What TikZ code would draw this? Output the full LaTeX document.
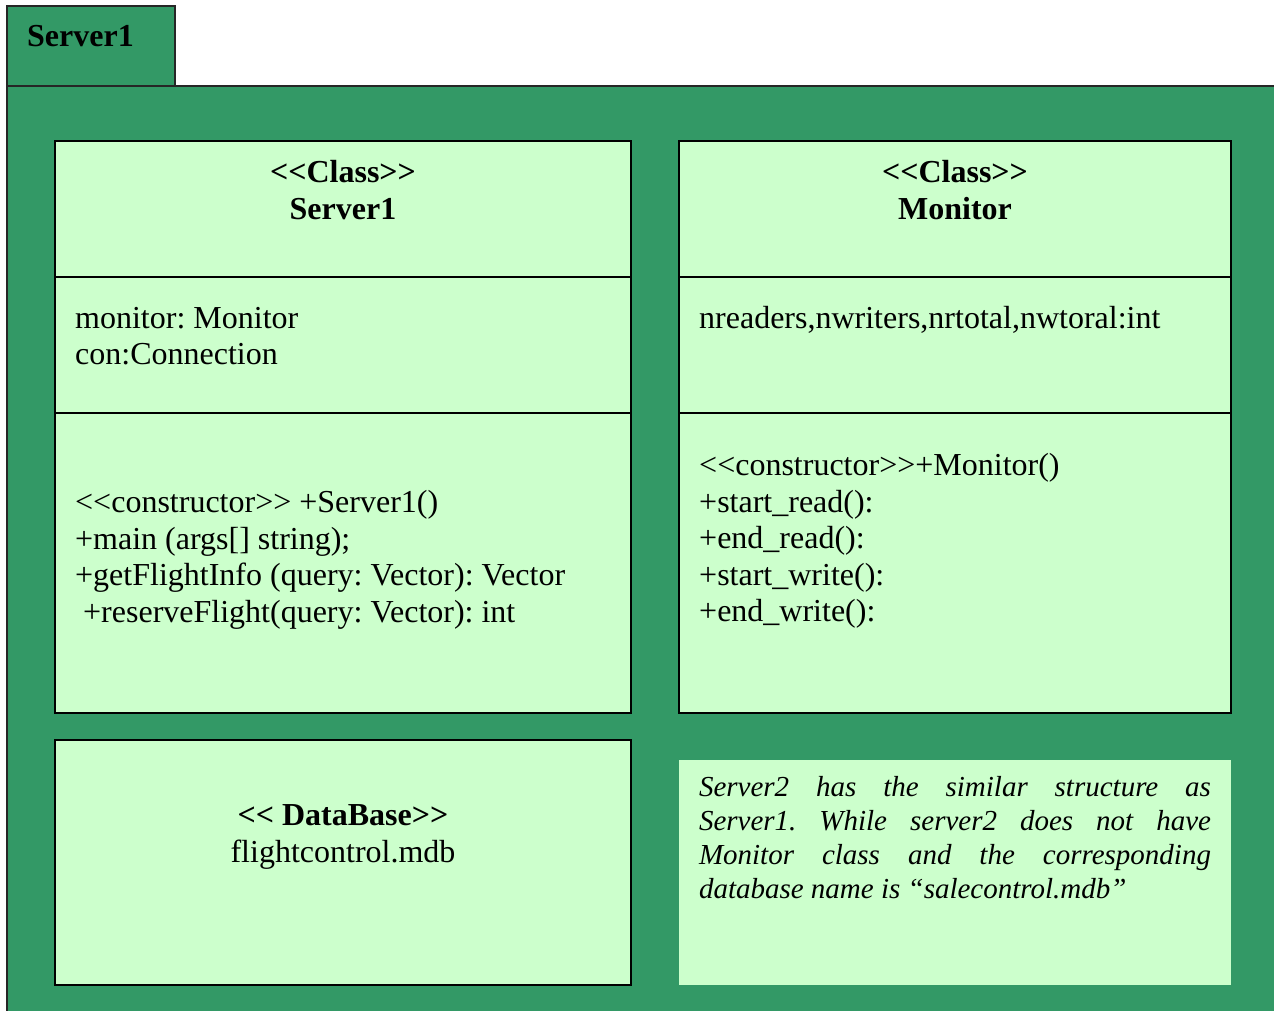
\documentclass[tikz,border=0pt]{standalone}
\usepackage{fontspec}
\setmainfont{Liberation Serif}
\frenchspacing
\definecolor{pkggreen}{HTML}{339966}
\definecolor{boxgreen}{HTML}{CCFFCC}
\begin{document}
\begin{tikzpicture}[x=1pt,y=-1pt,
  frame/.style={draw=black!85,line width=2pt,fill=pkggreen},
  classbox/.style={draw=black,line width=2pt,fill=boxgreen,inner sep=0pt},
  notebox/.style={fill=boxgreen,inner sep=0pt},
  divider/.style={draw=black,line width=1.6pt},
  title/.style={font=\fontsize{32}{36.5}\selectfont\bfseries,align=center,inner sep=0pt},
  body/.style={font=\fontsize{32}{36.5}\selectfont,align=left,anchor=west,inner sep=0pt},
  remark/.style={font=\fontsize{29}{34}\selectfont\itshape,text width=512pt,align=justify,inner sep=0pt}]
\useasboundingbox (0,0) rectangle (1274,1010);
\clip (0,0) rectangle (1274,1010);

% package frame: tab and body
\path[frame] (6.5,86) rectangle (1290,1030);
\path[frame] (6.5,5.5) rectangle (175,86);
\node[font=\fontsize{32}{36}\selectfont\bfseries,anchor=west,inner sep=0pt] (pkgname) at (27,36) {Server1};

% class Server1
\node[classbox,minimum width=576pt,minimum height=572pt] (s1box) at (343,427) {};
\path[divider] (55,277) -- (631,277);
\path[divider] (55,413) -- (631,413);
\node[title] (s1title) at (343,190) {<{}<Class>{}>\\Server1};
\node[body] (s1attr) at (75,336) {monitor: Monitor\\con:Connection};
\node[body] (s1ops) at (75,560) {<{}<constructor>{}> +Server1()\\+main (args[] string);\\+getFlightInfo (query: Vector): Vector\\\hspace{8pt}+reserveFlight(query: Vector): int};

% class Monitor
\node[classbox,minimum width=552pt,minimum height=572pt] (monbox) at (955,427) {};
\path[divider] (679,277) -- (1231,277);
\path[divider] (679,413) -- (1231,413);
\node[title] (montitle) at (955,190) {<{}<Class>{}>\\Monitor};
\node[body] (monattr) at (699,319.5) {nreaders,nwriters,nrtotal,nwtoral:int};
\node[body] (monops) at (699,541) {<{}<constructor>{}>+Monitor()\\+start\_read():\\+end\_read():\\+start\_write():\\+end\_write():};

% database
\node[classbox,minimum width=576pt,minimum height=245pt] (dbbox) at (343,862.5) {};
\node[font=\fontsize{32}{36.5}\selectfont,align=center,inner sep=0pt] (dbtext) at (343,837) {\textbf{<{}< DataBase>{}>}\\flightcontrol.mdb};

% note
\node[notebox,minimum width=552pt,minimum height=225pt] (notebox) at (955,872.5) {};
\node[remark] (notetext) at (955,838) {\hyphenpenalty=10000 Server2 has the similar structure as\linebreak Server1. While server2 does not have\linebreak Monitor class and the corresponding\linebreak database name is “salecontrol.mdb”};
\end{tikzpicture}
\end{document}
